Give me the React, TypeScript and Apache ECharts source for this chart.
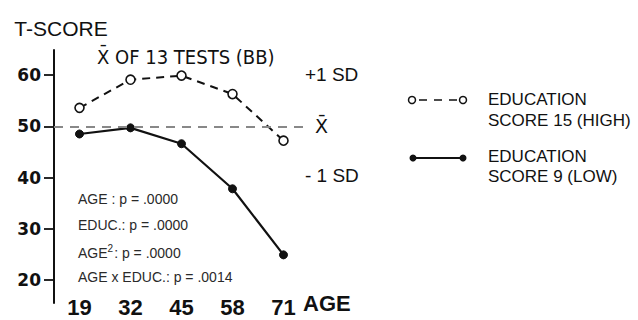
import React, { useEffect, useRef } from "react";
import * as echarts from "echarts";

const ages = ["19", "32", "45", "58", "71"];
const highEdu = [53.6, 59.1, 59.9, 56.3, 47.2];
const lowEdu = [48.5, 49.7, 46.6, 37.8, 24.9];
const yTicks = [20, 30, 40, 50, 60];
const meanValue = 50;
const statLines = ["AGE : p=.0000", "EDUC.: p=.0000", "AGE2: p=.0000", "AGE x EDUC.: p=.0014"];

const INK = "#111";

export default function App() {
  const ref = useRef<HTMLDivElement>(null);
  useEffect(() => {
    if (!ref.current) return;
    const chart = echarts.init(ref.current, null, { renderer: "svg" });
    const statGraphics = statLines.map((s, i) => {
      const isSq = s.startsWith("AGE2");
      return {
        type: "text",
        left: 78,
        top: 192 + i * 25.9,
        style: isSq
          ? {
              text: "{a|AGE}{s|2}{a|: p = .0000}",
              rich: {
                a: { fontSize: 14, fontFamily: "Liberation Sans, Arial", fill: "#2a2a2a", verticalAlign: "bottom" },
                s: { fontSize: 10, fontFamily: "Liberation Sans, Arial", fill: "#2a2a2a", verticalAlign: "top", padding: [0, 1, 6, 0] },
              },
            }
          : {
              text: s.replace("=", " = "),
              fontSize: 14,
              fontFamily: "Liberation Sans, Arial",
              fill: "#2a2a2a",
            },
      };
    });
    chart.setOption({
      animation: false,
      backgroundColor: "#fff",
      grid: { left: 54, right: 329, top: 50, bottom: 17, containLabel: false },
      xAxis: {
        type: "category",
        data: ages,
        boundaryGap: true,
        axisLine: { show: false },
        axisTick: { show: false },
        axisLabel: {
          fontSize: 22,
          fontWeight: "bold",
          fontFamily: "Liberation Sans Narrow, Liberation Sans, Arial",
          color: INK,
          verticalAlign: "middle",
          margin: 4,
        },
        name: "AGE",
        nameLocation: "end",
        nameGap: -6,
        nameTextStyle: {
          fontSize: 22,
          fontWeight: "bold",
          fontFamily: "Liberation Sans Narrow, Liberation Sans, Arial",
          color: INK,
          align: "left",
          verticalAlign: "middle",
          padding: [8, 0, 0, 0],
        },
      },
      yAxis: {
        type: "value",
        min: 15.5,
        max: 64.9,
        axisLine: { show: true, lineStyle: { color: INK, width: 2 } },
        axisTick: { show: true, length: 10, customValues: yTicks, lineStyle: { color: INK, width: 1.8 } },
        axisLabel: {
          customValues: yTicks,
          fontSize: 17,
          fontWeight: "bold",
          fontFamily: "DejaVu Sans, Arial",
          color: INK,
          margin: 13,
        },
        splitLine: { show: false },
        name: "T-SCORE",
        nameLocation: "end",
        nameGap: 11,
        nameTextStyle: {
          fontSize: 21,
          fontFamily: "Liberation Sans, Arial",
          color: INK,
          padding: [0, 0, 0, 14],
        },
      },
      title: {
        text: "X̄ OF 13 TESTS (BB)",
        left: 92,
        top: 42,
        textStyle: { fontSize: 20, fontFamily: "DejaVu Sans Condensed, Liberation Sans, Arial", fontWeight: "normal", color: INK },
      },
      series: [
        {
          type: "line",
          name: "EDUCATION SCORE 15 (HIGH)",
          data: highEdu,
          symbol: "circle",
          symbolSize: 9,
          itemStyle: { color: "#fff", borderColor: INK, borderWidth: 1.6 },
          lineStyle: { color: INK, width: 2, type: [8, 6] },
          z: 3,
          markLine: {
            silent: true,
            symbol: "none",
            data: [{ yAxis: meanValue }],
            lineStyle: { color: "#888", width: 2, type: [9, 7] },
            label: {
              formatter: "X̄",
              position: "end",
              distance: 6,
              fontSize: 19,
              fontFamily: "DejaVu Sans, Arial",
              color: INK,
            },
          },
        },
        {
          type: "line",
          name: "EDUCATION SCORE 9 (LOW)",
          data: lowEdu,
          symbol: "circle",
          symbolSize: 8,
          itemStyle: { color: INK, borderColor: INK, borderWidth: 1 },
          lineStyle: { color: INK, width: 2.2 },
          z: 4,
        },
      ],
      graphic: [
        { type: "text", left: 305, top: 65, style: { text: "+1 SD", fontSize: 19, fontFamily: "Liberation Sans, Arial", fill: INK } },
        { type: "text", left: 305, top: 166, style: { text: "- 1 SD", fontSize: 19, fontFamily: "Liberation Sans, Arial", fill: INK } },
        { type: "line", shape: { x1: 419, y1: 100, x2: 457, y2: 100 }, style: { stroke: INK, lineWidth: 1.6, lineDash: [8, 7] } },
        { type: "circle", shape: { cx: 412, cy: 100, r: 3.5 }, style: { fill: "#fff", stroke: INK, lineWidth: 1.5 } },
        { type: "circle", shape: { cx: 463, cy: 100, r: 3.5 }, style: { fill: "#fff", stroke: INK, lineWidth: 1.5 } },
        { type: "line", shape: { x1: 413, y1: 158, x2: 463, y2: 158 }, style: { stroke: INK, lineWidth: 2 } },
        { type: "circle", shape: { cx: 413, cy: 158, r: 3.5 }, style: { fill: INK } },
        { type: "circle", shape: { cx: 463, cy: 158, r: 3.5 }, style: { fill: INK } },
        { type: "text", left: 488, top: 91, style: { text: "EDUCATION", fontSize: 17, fontFamily: "Liberation Sans, Arial", fill: INK } },
        { type: "text", left: 488, top: 112, style: { text: "SCORE 15 (HIGH)", fontSize: 17, fontFamily: "Liberation Sans, Arial", fill: INK } },
        { type: "text", left: 488, top: 148, style: { text: "EDUCATION", fontSize: 17, fontFamily: "Liberation Sans, Arial", fill: INK } },
        { type: "text", left: 488, top: 168, style: { text: "SCORE 9 (LOW)", fontSize: 17, fontFamily: "Liberation Sans, Arial", fill: INK } },
        ...statGraphics,
      ],
    });
    return () => chart.dispose();
  }, []);
  return <div ref={ref} style={{ width: 638, height: 320, position: "fixed", left: 0, top: 0 }} />;
}
